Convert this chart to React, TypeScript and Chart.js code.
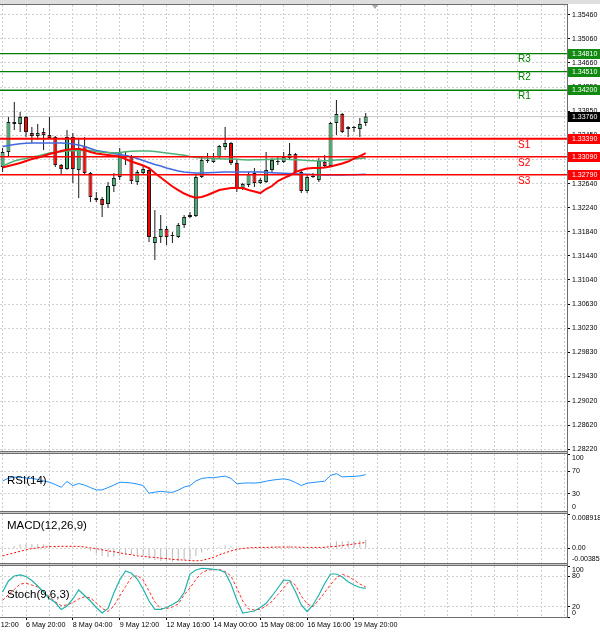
import React, { useEffect, useRef } from 'react';
import { Chart, registerables } from 'chart.js';

Chart.register(...registerables);

const FONT = '"Liberation Sans", Arial, sans-serif';
const GRID = '#d0d0d0';
const FRAME = '#6e6e6e';
const BULL = '#3cb371';
const BEAR = '#ff0000';

// ---- H4 candles (bar index 0 = 6 May 04:00) ----
const opens = [
  1.32920, 1.33170, 1.33670, 1.33636, 1.33753, 1.33486, 1.33436, 1.33503, 1.33453, 1.33420,
  1.32953, 1.32886, 1.33420, 1.32870, 1.33270, 1.32820, 1.32403, 1.32386, 1.32303, 1.32603,
  1.32753, 1.33103, 1.33086, 1.32670, 1.32820, 1.32870, 1.31653, 1.31753, 1.31886, 1.31770,
  1.31753, 1.31953, 1.32086, 1.32103, 1.32753, 1.33020, 1.33003, 1.33086, 1.33253, 1.33320,
  1.32986, 1.32570, 1.32620, 1.32820, 1.32653, 1.32670, 1.32870, 1.33020, 1.33003, 1.33070,
  1.33136, 1.32836, 1.32520, 1.32753, 1.32703, 1.33003, 1.32936, 1.33653, 1.33803, 1.33553,
  1.33570, 1.33553, 1.33653,
];
const highs = [
  1.33236, 1.33753, 1.34003, 1.33836, 1.33770, 1.33586, 1.33636, 1.33570, 1.33753, 1.33436,
  1.32970, 1.33536, 1.33486, 1.33403, 1.33420, 1.32836, 1.32503, 1.32420, 1.32670, 1.32820,
  1.33236, 1.33170, 1.33120, 1.32870, 1.32953, 1.32920, 1.32203, 1.32120, 1.31936, 1.31836,
  1.31986, 1.32120, 1.32170, 1.32786, 1.33086, 1.33153, 1.33153, 1.33286, 1.33586, 1.33336,
  1.33036, 1.32653, 1.32836, 1.32903, 1.32736, 1.33170, 1.33070, 1.33086, 1.33170, 1.33320,
  1.33153, 1.32853, 1.32786, 1.32820, 1.33070, 1.33120, 1.33670, 1.34036, 1.33820, 1.33603,
  1.33603, 1.33736, 1.33820,
];
const lows = [
  1.32836, 1.33086, 1.33536, 1.33503, 1.33420, 1.33320, 1.33370, 1.33203, 1.33386, 1.32920,
  1.32786, 1.32870, 1.32653, 1.32403, 1.32803, 1.32336, 1.32336, 1.32086, 1.32236, 1.32503,
  1.32703, 1.32953, 1.32636, 1.32620, 1.32786, 1.31670, 1.31370, 1.31653, 1.31620, 1.31653,
  1.31736, 1.31903, 1.32070, 1.32086, 1.32736, 1.32986, 1.32986, 1.33070, 1.33203, 1.32953,
  1.32503, 1.32536, 1.32586, 1.32586, 1.32636, 1.32653, 1.32836, 1.32953, 1.32986, 1.33053,
  1.32820, 1.32486, 1.32486, 1.32736, 1.32670, 1.32920, 1.32920, 1.33453, 1.33486, 1.33420,
  1.33503, 1.33420, 1.33603,
];
const closes = [
  1.33170, 1.33670, 1.33636, 1.33753, 1.33503, 1.33436, 1.33486, 1.33453, 1.33403, 1.32953,
  1.32886, 1.33420, 1.32886, 1.33236, 1.32820, 1.32420, 1.32370, 1.32286, 1.32603, 1.32736,
  1.33170, 1.33120, 1.32686, 1.32836, 1.32886, 1.31753, 1.31753, 1.31886, 1.31753, 1.31786,
  1.31953, 1.32086, 1.32120, 1.32753, 1.33036, 1.33036, 1.33070, 1.33270, 1.33320, 1.32986,
  1.32570, 1.32636, 1.32803, 1.32653, 1.32703, 1.32870, 1.33036, 1.33003, 1.33086, 1.33136,
  1.32836, 1.32520, 1.32753, 1.32770, 1.33020, 1.32936, 1.33653, 1.33803, 1.33503, 1.33586,
  1.33586, 1.33636, 1.33760,
];

// ---- moving averages ----
const maRed = [
  1.32912, 1.32936, 1.32961, 1.32986, 1.33020, 1.33053, 1.33075, 1.33103, 1.33136, 1.33161,
  1.33186, 1.33208, 1.33220, 1.33220, 1.33203, 1.33170, 1.33145, 1.33131, 1.33120, 1.33108,
  1.33095, 1.33053, 1.33011, 1.32978, 1.32945, 1.32903, 1.32820, 1.32745, 1.32670, 1.32595,
  1.32536, 1.32478, 1.32436, 1.32408, 1.32420, 1.32453, 1.32495, 1.32536, 1.32553, 1.32570,
  1.32570, 1.32570, 1.32536, 1.32511, 1.32486, 1.32553, 1.32603, 1.32686, 1.32736, 1.32778,
  1.32836, 1.32870, 1.32895, 1.32903, 1.32903, 1.32912, 1.32928, 1.32953, 1.32978, 1.33011,
  1.33061, 1.33103, 1.33153,
];
const maGreen = [
  1.32936, 1.32978, 1.33020, 1.33045, 1.33061, 1.33086, 1.33103, 1.33128, 1.33153, 1.33165,
  1.33175, 1.33186, 1.33191, 1.33196, 1.33201, 1.33195, 1.33178, 1.33166, 1.33161, 1.33156,
  1.33161, 1.33173, 1.33183, 1.33186, 1.33186, 1.33186, 1.33178, 1.33165, 1.33153, 1.33141,
  1.33128, 1.33115, 1.33095, 1.33078, 1.33070, 1.33065, 1.33061, 1.33058, 1.33053, 1.33053,
  1.33048, 1.33043, 1.33036, 1.33040, 1.33043, 1.33046, 1.33050, 1.33053, 1.33053, 1.33046,
  1.33040, 1.33035, 1.33030, 1.33025, 1.33020, 1.33025, 1.33028, 1.33035, 1.33040, 1.33046,
  1.33053, 1.33061, 1.33070,
];
const maBlue = [
  1.33261, 1.33278, 1.33295, 1.33308, 1.33316, 1.33320, 1.33320, 1.33320, 1.33320, 1.33320,
  1.33320, 1.33316, 1.33303, 1.33286, 1.33261, 1.33228, 1.33195, 1.33178, 1.33161, 1.33145,
  1.33128, 1.33110, 1.33090, 1.33061, 1.33028, 1.32995, 1.32961, 1.32936, 1.32903, 1.32878,
  1.32853, 1.32836, 1.32828, 1.32820, 1.32820, 1.32823, 1.32828, 1.32831, 1.32835, 1.32836,
  1.32836, 1.32836, 1.32836, 1.32836, 1.32836, 1.32831, 1.32826, 1.32820, 1.32816, 1.32811,
  1.32806, 1.32803, 1.32798, 1.32795, 1.32791, 1.32788, 1.32786, 1.32786, 1.32786, 1.32790,
  1.32793, 1.32796, 1.32800,
];

// ---- indicators ----
const rsi = [
  52.7, 57.5, 59.3, 58.9, 58.0, 57.1, 55.4, 52.7, 50.5, 46.4,
  41.6, 51.8, 44.6, 48.2, 45.5, 41.1, 37.0, 37.0, 41.1, 45.5,
  50.5, 50.0, 49.1, 47.3, 44.6, 31.2, 33.0, 34.5, 33.4, 32.7,
  36.6, 42.0, 44.6, 52.7, 57.1, 58.4, 58.4, 59.8, 61.3, 57.1,
  47.7, 48.8, 49.3, 48.9, 50.0, 52.3, 54.1, 55.4, 56.4, 54.5,
  50.0, 44.6, 48.8, 50.0, 51.2, 52.3, 62.5, 65.5, 59.8, 60.4,
  60.7, 61.6, 63.8,
];
const macdMain = [
  -0.0004, 0.0002, 0.0006, 0.0010, 0.0011, 0.0011, 0.0011, 0.0010, 0.0009, 0.0005,
  0.0002, 0.0003, 0.0000, 0.0001, -0.0002, -0.0007, -0.0014, -0.0020, -0.0023, -0.0022,
  -0.0018, -0.0016, -0.0017, -0.0018, -0.0018, -0.0026, -0.0031, -0.0033, -0.0034, -0.0035,
  -0.0034, -0.0031, -0.0028, -0.0020, -0.0011, -0.0005, -0.0001, 0.0004, 0.0007, 0.0005,
  0.0000, -0.0002, -0.0001, -0.0002, -0.0001, 0.0002, 0.0005, 0.0006, 0.0007, 0.0007,
  0.0004, -0.0001, 0.0000, 0.0001, 0.0004, 0.0004, 0.0012, 0.0018, 0.0018, 0.0019,
  0.0019, 0.0020, 0.0022,
];
const macdSignal = [
  -0.0020, -0.0016, -0.0012, -0.0008, -0.0004, -0.0001, 0.0001, 0.0003, 0.0004, 0.00045,
  0.0005, 0.0005, 0.0005, 0.00045, 0.00035, 0.0001, -0.0001, -0.0004, -0.0007, -0.0009,
  -0.0012, -0.0015, -0.0017, -0.0020, -0.0021, -0.0023, -0.0024, -0.0026, -0.0027, -0.0029,
  -0.0030, -0.0031, -0.0032, -0.0033, -0.0032, -0.0028, -0.0024, -0.0017, -0.0012, -0.0007,
  -0.0003, -0.00005, 0.0001, 0.0002, 0.0002, 0.0002, 0.00025, 0.0003, 0.0003, 0.0003,
  0.0003, 0.00025, 0.0002, 0.0002, 0.0002, 0.00025, 0.0004, 0.0005, 0.0007, 0.0009,
  0.0011, 0.0013, 0.0015,
];
const stochMain = [
  49.0, 70.6, 80.4, 82.4, 79.4, 71.6, 60.8, 49.0, 36.3, 28.4,
  14.7, 21.6, 35.3, 52.9, 42.2, 31.4, 18.6, 7.8, 16.7, 47.0,
  72.5, 90.2, 85.7, 74.5, 54.9, 31.4, 15.1, 15.1, 18.6, 24.5,
  31.4, 48.0, 84.3, 92.2, 95.5, 94.7, 93.5, 92.2, 87.3, 64.7,
  33.3, 7.8, 9.8, 11.8, 18.6, 26.9, 41.2, 56.9, 72.5, 71.6,
  50.0, 23.5, 10.8, 23.5, 43.1, 65.7, 84.3, 84.3, 78.4, 69.2,
  62.7, 57.8, 56.3,
];
const stochSignal = [
  32.4, 44.1, 53.9, 64.7, 66.1, 62.7, 58.8, 48.0, 40.2, 29.8,
  22.5, 23.5, 28.4, 35.3, 39.6, 37.3, 27.5, 16.7, 10.8, 21.6,
  41.2, 59.8, 77.5, 81.4, 72.5, 51.0, 29.4, 16.7, 16.7, 19.6,
  25.5, 43.1, 56.9, 73.5, 86.3, 92.2, 92.7, 93.3, 89.2, 80.4,
  56.9, 31.4, 15.7, 13.7, 15.1, 21.6, 30.4, 44.1, 56.9, 71.6,
  62.7, 41.2, 25.5, 20.2, 33.3, 48.0, 63.7, 76.5, 83.9, 79.4,
  72.5, 64.7, 58.8,
];

// ---- axes / levels ----
const timeLabels = ['5 May 12:00', '6 May 20:00', '8 May 04:00', '9 May 12:00', '12 May 16:00', '14 May 00:00', '15 May 08:00', '16 May 16:00', '19 May 20:00'];
const timeLabelBars = [-4, 4, 12, 20, 28, 36, 44, 52, 60];
const priceTicks = [1.3546, 1.3506, 1.3466, 1.3425, 1.3385, 1.3345, 1.3305, 1.3264, 1.3224, 1.3184, 1.3144, 1.3104, 1.3063, 1.3023, 1.2983, 1.2943, 1.2902, 1.2862, 1.2822];
const rsiTicks = [0, 30, 70, 100];
const rsiLevels = [30, 70];
const macdTicks = [-0.003851, 0, 0.008918];
const stochTicks = [0, 20, 80, 100];
const stochLevels = [20, 80];
const levelNames = ['R3', 'R2', 'R1', 'S1', 'S2', 'S3'];
const levelValues = [1.3481, 1.3451, 1.342, 1.3339, 1.3309, 1.3279];
const lastPrice = 1.3376;
const levelTextBar = 88;

const XMIN = -0.44;
const XMAX = 96.37;
const PRICE_MIN = 1.28187;
const PRICE_MAX = 1.3562;

const R_COLOR = '#008000';
const S_COLOR = '#ff0000';

function gridTicks(s: any) {
  const t: any[] = [];
  for (let k = -4; k <= 96; k += 4) t.push({ value: k });
  s.ticks = t;
}

function xAxis(showLabels: boolean): any {
  return {
    type: 'linear',
    min: XMIN,
    max: XMAX,
    offset: false,
    afterBuildTicks: gridTicks,
    afterFit: (s: any) => {
      s.height = showLabels ? 15 : 0;
      s.paddingLeft = 0;
      s.paddingRight = 0;
    },
    ticks: {
      display: showLabels,
      autoSkip: false,
      maxRotation: 0,
      minRotation: 0,
      align: 'start',
      padding: 1,
      color: '#000',
      font: { family: FONT, size: 7.2 },
      callback: (v: any) => {
        const i = timeLabelBars.indexOf(Number(v));
        return i >= 0 ? timeLabels[i] : '';
      },
    },
    grid: {
      color: GRID,
      offset: false,
      drawTicks: showLabels,
      tickLength: 3,
      tickWidth: 1,
      tickColor: (c: any) => (c.tick && timeLabelBars.indexOf(c.tick.value) >= 0 ? '#000' : 'rgba(0,0,0,0)'),
    },
    border: { display: false, dash: [2, 2] },
  };
}

function yAxis(min: number, max: number, ticks: number[], label: (v: number) => any, gridFor: (v: number) => boolean): any {
  return {
    type: 'linear',
    position: 'right',
    min,
    max,
    beginAtZero: false,
    afterBuildTicks: (s: any) => {
      s.ticks = ticks.map((v) => ({ value: v }));
    },
    afterFit: (s: any) => {
      s.width = 33;
      s.paddingTop = 0;
      s.paddingBottom = 0;
    },
    ticks: {
      autoSkip: false,
      padding: 2,
      color: '#000',
      font: { family: FONT, size: 7 },
      callback: (v: any) => label(Number(v)),
    },
    grid: {
      color: (c: any) => (c.tick && gridFor(c.tick.value) ? GRID : 'rgba(0,0,0,0)'),
      drawTicks: true,
      tickLength: 3,
      tickWidth: 1,
      tickColor: '#000',
    },
    border: { display: false, dash: [2, 2] },
  };
}

const baseOptions = (scales: any): any => ({
  responsive: false,
  maintainAspectRatio: false,
  animation: false,
  events: [],
  layout: { padding: 0, autoPadding: false },
  plugins: { legend: { display: false }, tooltip: { enabled: false } },
  scales,
});

const levelPlugin = {
  id: 'levelLabels',
  afterDraw(chart: any) {
    const { ctx, chartArea, scales } = chart;
    const y = scales.y;
    const x = scales.x;
    ctx.save();
    ctx.textBaseline = 'middle';
    ctx.textAlign = 'left';
    ctx.font = `10px ${FONT}`;
    const tx = x.getPixelForValue(levelTextBar);
    levelNames.forEach((name, i) => {
      const py = y.getPixelForValue(levelValues[i]);
      ctx.fillStyle = name[0] === 'R' ? R_COLOR : S_COLOR;
      ctx.fillText(name, tx, py + 6);
    });
    ctx.font = `7px ${FONT}`;
    const boxes = levelValues.map((v, i) => ({ v, c: levelNames[i][0] === 'R' ? '#128a12' : '#ff0000' }));
    boxes.push({ v: lastPrice, c: '#000000' });
    boxes.forEach((b) => {
      const py = Math.round(y.getPixelForValue(b.v));
      ctx.fillStyle = b.c;
      ctx.fillRect(chartArea.right + 1, py - 5, chart.width - chartArea.right - 1, 10);
      ctx.fillStyle = '#ffffff';
      ctx.fillText(b.v.toFixed(5), chartArea.right + 5, py + 0.5);
    });
    ctx.restore();
  },
};

const series = (arr: number[]) => arr.map((v, k) => ({ x: k, y: v }));
const hline = (v: number) => [{ x: XMIN, y: v }, { x: XMAX, y: v }];

export default function App() {
  const mainRef = useRef<HTMLCanvasElement>(null);
  const rsiRef = useRef<HTMLCanvasElement>(null);
  const macdRef = useRef<HTMLCanvasElement>(null);
  const stochRef = useRef<HTMLCanvasElement>(null);

  useEffect(() => {
    const charts: Chart[] = [];
    const bull = (k: number) => closes[k] >= opens[k];

    const levelSets = levelValues.map((v, i) => ({
      type: 'line',
      data: hline(v),
      borderColor: levelNames[i][0] === 'R' ? R_COLOR : S_COLOR,
      borderWidth: levelNames[i] === 'S1' ? 2 : levelNames[i][0] === 'S' ? 1.6 : 1.4,
      pointRadius: 0,
      order: 0,
    }));

    charts.push(
      new Chart(mainRef.current as HTMLCanvasElement, {
        type: 'bar',
        data: {
          datasets: [
            ...levelSets,
            { type: 'line', data: series(maRed), borderColor: '#ff0000', borderWidth: 2, pointRadius: 0, order: 1 },
            { type: 'line', data: series(maGreen), borderColor: '#4cb276', borderWidth: 1.5, pointRadius: 0, order: 1.2 },
            { type: 'line', data: series(maBlue), borderColor: '#4169e1', borderWidth: 1.5, pointRadius: 0, order: 1.4 },
            {
              type: 'bar',
              data: opens.map((o, k) => ({ x: k, y: [o, closes[k]] })),
              backgroundColor: (c: any) => (bull(c.dataIndex) ? BULL : BEAR),
              borderColor: '#1a1a1a',
              borderWidth: 1,
              borderSkipped: false,
              grouped: false,
              barThickness: 4,
              maxBarThickness: 4,
              inflateAmount: 0,
              order: 2,
            },
            {
              type: 'bar',
              data: lows.map((l, k) => ({ x: k, y: [l, highs[k]] })),
              backgroundColor: '#1a1a1a',
              borderWidth: 0,
              grouped: false,
              barThickness: 1,
              maxBarThickness: 1,
              inflateAmount: 0,
              order: 3,
            },
            { type: 'line', data: hline(lastPrice), borderColor: '#c8c8c8', borderWidth: 1, pointRadius: 0, order: 4 },
          ] as any,
        },
        options: baseOptions({
          x: xAxis(false),
          y: yAxis(PRICE_MIN, PRICE_MAX, priceTicks, (v) => v.toFixed(5), () => true),
        }),
        plugins: [levelPlugin],
      } as any)
    );

    charts.push(
      new Chart(rsiRef.current as HTMLCanvasElement, {
        type: 'line',
        data: {
          datasets: [{ data: series(rsi), borderColor: '#1e90ff', borderWidth: 1, pointRadius: 0 }],
        },
        options: baseOptions({
          x: xAxis(false),
          y: yAxis(0, 100, rsiTicks, (v) => (v === 100 ? ['', '100'] : v === 0 ? ['0', ''] : String(v)), (v) => rsiLevels.indexOf(v) >= 0),
        }),
      } as any)
    );

    charts.push(
      new Chart(macdRef.current as HTMLCanvasElement, {
        type: 'bar',
        data: {
          datasets: [
            { type: 'line', data: series(macdSignal), borderColor: '#ff0000', borderWidth: 1, borderDash: [2, 2], pointRadius: 0, order: 0 },
            {
              type: 'bar',
              data: series(macdMain),
              backgroundColor: '#b8b8b8',
              borderWidth: 0,
              grouped: false,
              barThickness: 1,
              maxBarThickness: 1,
              inflateAmount: 0,
              order: 1,
            },
          ] as any,
        },
        options: baseOptions({
          x: xAxis(false),
          y: yAxis(
            macdTicks[0],
            macdTicks[2],
            macdTicks,
            (v) => (v === macdTicks[2] ? ['', v.toFixed(6)] : v === macdTicks[0] ? [v.toFixed(6), ''] : v.toFixed(2)),
            (v) => v === 0
          ),
        }),
      } as any)
    );

    charts.push(
      new Chart(stochRef.current as HTMLCanvasElement, {
        type: 'line',
        data: {
          datasets: [
            { data: series(stochSignal), borderColor: '#ff3030', borderWidth: 1, borderDash: [3, 2], pointRadius: 0, order: 1 },
            { data: series(stochMain), borderColor: '#20b2aa', borderWidth: 1.2, pointRadius: 0, order: 0 },
          ],
        },
        options: baseOptions({
          x: xAxis(true),
          y: yAxis(0, 100, stochTicks, (v) => (v === 100 ? ['', '100'] : v === 0 ? ['0', ''] : String(v)), (v) => stochLevels.indexOf(v) >= 0),
        }),
      } as any)
    );

    return () => charts.forEach((c) => c.destroy());
  }, []);

  const cv = (top: number, height: number): React.CSSProperties => ({
    position: 'absolute',
    left: 0,
    top,
    width: 600,
    height,
    display: 'block',
  });
  const line = (top: number, height: number, bg: string, left = 0, width = 568): React.CSSProperties => ({
    position: 'absolute',
    left,
    top,
    width,
    height,
    background: bg,
  });
  const sep = (top: number) => (
    <>
      <div style={line(top, 1, FRAME)} />
      <div style={line(top + 1, 1, '#c8c8c8')} />
      <div style={line(top + 2, 1, FRAME)} />
    </>
  );
  const nameStyle = (top: number): React.CSSProperties => ({
    position: 'absolute',
    left: 7,
    top,
    fontFamily: FONT,
    fontSize: 11.5,
    lineHeight: '12px',
    color: '#000',
    whiteSpace: 'nowrap',
  });

  return (
    <div style={{ position: 'absolute', left: 0, top: 0, width: 600, height: 632, background: '#fff', overflow: 'hidden' }}>
      <canvas ref={mainRef} width={600} height={446} style={cv(5, 446)} />
      <canvas ref={rsiRef} width={600} height={57} style={cv(454, 57)} />
      <canvas ref={macdRef} width={600} height={49} style={cv(514, 49)} />
      <canvas ref={stochRef} width={600} height={66} style={cv(566, 66)} />

      <div style={line(0, 4, '#dedede', 0, 600)} />
      <div style={line(4, 1, FRAME)} />
      {sep(451)}
      {sep(511)}
      {sep(563)}
      <div style={line(617, 1, FRAME)} />
      <div style={line(4, 614, FRAME, 567, 1)} />
      <div
        style={{
          position: 'absolute',
          left: 372,
          top: 5,
          width: 0,
          height: 0,
          borderLeft: '3px solid transparent',
          borderRight: '3px solid transparent',
          borderTop: '4px solid #a8a8a8',
        }}
      />

      <div style={nameStyle(474)}>RSI(14)</div>
      <div style={nameStyle(519)}>MACD(12,26,9)</div>
      <div style={nameStyle(588)}>Stoch(9,6,3)</div>
    </div>
  );
}
